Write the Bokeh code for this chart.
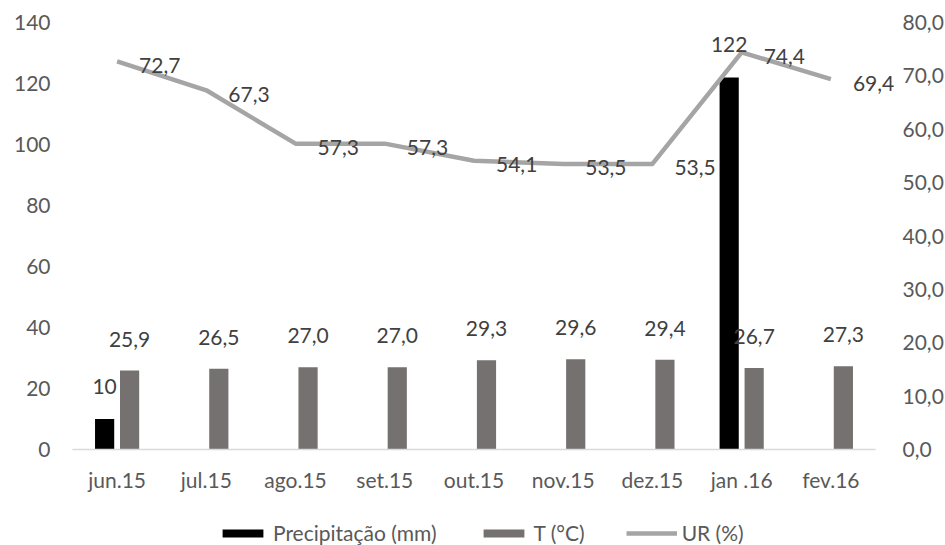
from bokeh.plotting import figure
from bokeh.layouts import column
from bokeh.models import (ColumnDataSource, Range1d, LinearAxis, FixedTicker,
                          Legend, LegendItem, LabelSet)
from bokeh.transform import dodge
from bokeh.embed import file_html
from bokeh.resources import INLINE
from bokeh.core.properties import value

categories = ["jun.15", "jul.15", "ago.15", "set.15", "out.15", "nov.15", "dez.15", "jan .16", "fev.16"]
precip = [10, None, None, None, None, None, None, 122, None]
temp = [25.9, 26.5, 27.0, 27.0, 29.3, 29.6, 29.4, 26.7, 27.3]
ur = [72.7, 67.3, 57.3, 57.3, 54.1, 53.5, 53.5, 74.4, 69.4]
left_ticks = [0, 20, 40, 60, 80, 100, 120, 140]
right_ticks = [0, 10, 20, 30, 40, 50, 60, 70, 80]
series_names = ["Precipitação (mm)", "T (°C)", "UR (%)"]

FONT = "Lato"
FS = "21px"
TICK_COLOR = "#595959"
LABEL_COLOR = "#404040"
BAR_BLACK = "black"
BAR_GRAY = "#767171"
LINE_GRAY = "#A5A5A5"

def fmt1(v):
    return f"{v:.1f}".replace(".", ",")

n = len(categories)
xs = list(range(n))
src = ColumnDataSource(dict(
    x=xs,
    temp=temp,
    temp_lbl=[fmt1(v) for v in temp],
    ur=ur,
    ur_lbl=[fmt1(v) for v in ur],
))
px = [i for i, v in zip(xs, precip) if v is not None]
pv = [v for v in precip if v is not None]
src_p = ColumnDataSource(dict(x=px, precip=pv, lbl=[str(v) for v in pv]))

FW = 830          # frame width (px); categories occupy 803 px of it
cat_px = 803 / n
p = figure(frame_width=FW, frame_height=427,
           x_range=Range1d(-0.5, n - 0.5 + (FW - 803) / cat_px), y_range=Range1d(0, 140),
           output_backend="svg", toolbar_location=None,
           min_border_left=72, min_border_right=0, min_border_top=22, min_border_bottom=70)
p.extra_y_ranges = {"ur": Range1d(0, 80)}
p.outline_line_color = None
p.xgrid.grid_line_color = None
p.ygrid.grid_line_color = None

bw = 0.215
p.vbar(x=dodge("x", -0.14), top="precip", width=bw, source=src_p,
       fill_color=BAR_BLACK, line_color=None)
p.vbar(x=dodge("x", 0.14), top="temp", width=bw, source=src,
       fill_color=BAR_GRAY, line_color=None)
p.line(x="x", y="ur", y_range_name="ur", source=src, line_color=LINE_GRAY,
       line_width=4.5, line_join="round")

lbl_p = LabelSet(x=dodge("x", -0.14), y="precip", text="lbl", source=src_p,
                 text_font=value(FONT), text_font_size=value(FS), text_color=LABEL_COLOR,
                 text_align="center", text_baseline="alphabetic", y_offset=25)
lbl_t = LabelSet(x=dodge("x", 0.14), y="temp", text="temp_lbl", source=src,
                 text_font=value(FONT), text_font_size=value(FS), text_color=LABEL_COLOR,
                 text_align="center", text_baseline="alphabetic", y_offset=24)
lbl_u = LabelSet(x="x", y="ur", text="ur_lbl", source=src, y_range_name="ur",
                 text_font=value(FONT), text_font_size=value(FS), text_color=LABEL_COLOR,
                 text_align="left", text_baseline="middle", x_offset=22, y_offset=-4)
for l in (lbl_p, lbl_t, lbl_u):
    p.add_layout(l)

# axes
xa = p.xaxis[0]
xa.ticker = FixedTicker(ticks=xs)
xa.major_label_overrides = {i: c for i, c in zip(xs, categories)}
xa.bounds = (-0.5, n - 0.5)
xa.axis_line_color = "#D9D9D9"
xa.axis_line_width = 1.5
xa.major_tick_line_color = None
xa.minor_tick_line_color = None
xa.major_label_text_font = FONT
xa.major_label_text_font_size = FS
xa.major_label_text_color = TICK_COLOR
xa.major_label_standoff = 11

ya = p.yaxis[0]
ya.ticker = FixedTicker(ticks=left_ticks)
ya.axis_line_color = None
ya.major_tick_line_color = None
ya.minor_tick_line_color = None
ya.major_label_text_font = FONT
ya.major_label_text_font_size = FS
ya.major_label_text_color = TICK_COLOR
ya.major_label_standoff = 16

ra = LinearAxis(y_range_name="ur", ticker=FixedTicker(ticks=right_ticks))
ra.major_label_overrides = {t: fmt1(t) for t in right_ticks}
ra.axis_line_color = None
ra.major_tick_line_color = None
ra.minor_tick_line_color = None
ra.major_tick_out = 0
ra.major_tick_in = 0
ra.major_label_text_font = FONT
ra.major_label_text_font_size = FS
ra.major_label_text_color = TICK_COLOR
ra.major_label_standoff = 0
p.add_layout(ra, "right")

# legend strip below the chart
lf = figure(width=945, height=26, x_range=Range1d(0, 1), y_range=Range1d(0, 1),
            output_backend="svg", toolbar_location=None,
            min_border=0, outline_line_color=None)
lf.axis.visible = False
lf.grid.visible = False
nan = float("nan")
g1 = lf.vbar(x=[nan], top=[nan], width=0.1, fill_color=BAR_BLACK, line_color=None)
g2 = lf.vbar(x=[nan], top=[nan], width=0.1, fill_color=BAR_GRAY, line_color=None)
g3 = lf.line(x=[nan], y=[nan], line_color=LINE_GRAY, line_width=4.5)
legend = Legend(items=[LegendItem(label=s, renderers=[g]) for s, g in zip(series_names, (g1, g2, g3))],
                orientation="horizontal", location=(145, 0))
legend.label_text_font = FONT
legend.label_text_font_size = FS
legend.label_text_color = TICK_COLOR
legend.glyph_width = 51
legend.glyph_height = 10
legend.label_standoff = 5
legend.spacing = 41
legend.border_line_color = None
legend.background_fill_alpha = 0
legend.padding = 0
legend.margin = 0
lf.add_layout(legend, "center")

layout = column(p, lf, spacing=0)
open("out.html", "w").write(file_html(layout, INLINE))
